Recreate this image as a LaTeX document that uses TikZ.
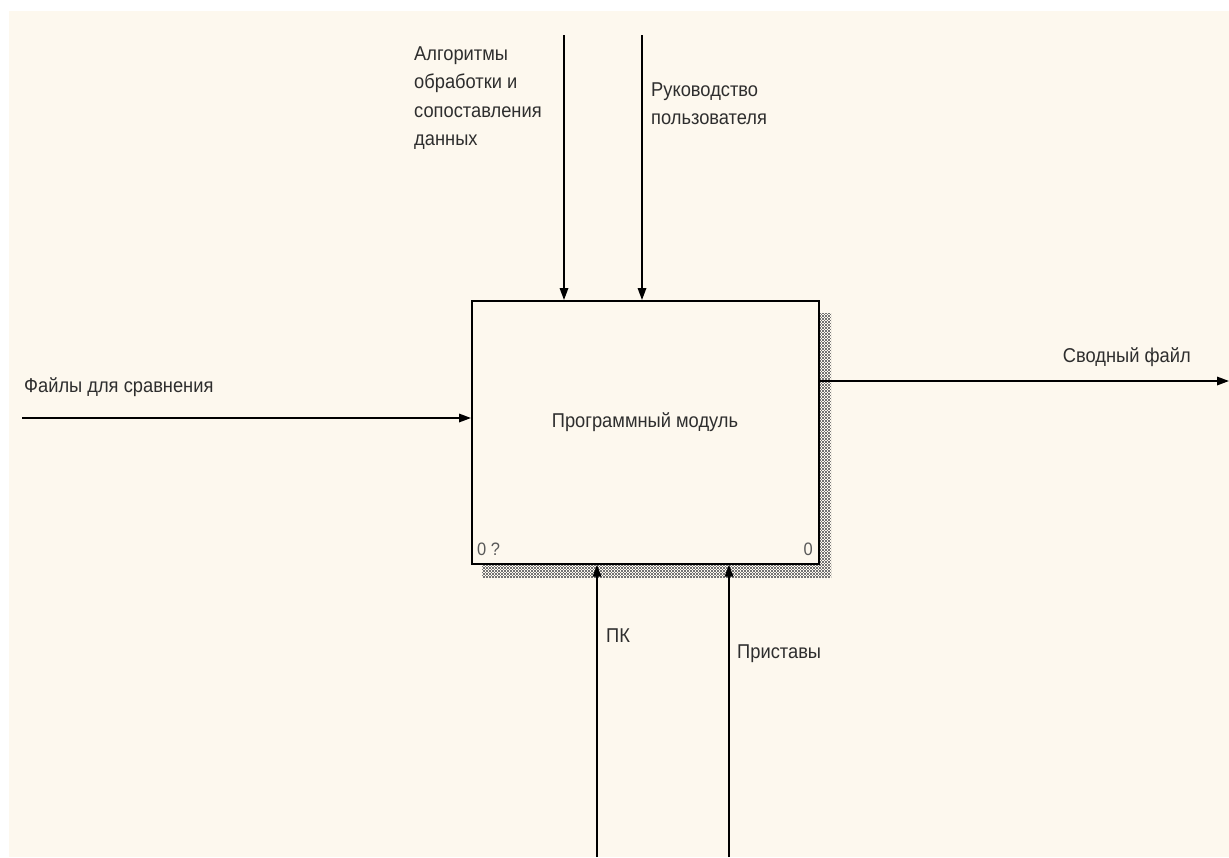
\documentclass[tikz,border=0pt]{standalone}
\usepackage{fontspec}
\setmainfont[FakeStretch=0.915]{Liberation Sans}
\usetikzlibrary{arrows.meta,patterns.meta}
\definecolor{bgcream}{HTML}{FDF8EE}
\definecolor{txt}{HTML}{2E2E2E}
\tikzdeclarepattern{
  name=weave, type=uncolored,
  bottom left={(-0.1pt,-0.1pt)}, top right={(3.1pt,3.1pt)},
  tile size={(3pt,3pt)},
  code={\fill (0pt,0pt) rectangle (1.5pt,1.5pt); \fill (1.5pt,1.5pt) rectangle (3pt,3pt);}
}
\tikzset{
  conn/.style={line width=1.7pt, draw=black, -{Triangle[length=12pt,width=8.5pt]}},
  lbl/.style={font=\fontsize{20}{28.5}\selectfont, text=txt, inner sep=0pt, align=left},
  corner/.style={font=\fontsize{18}{20}\selectfont, text=black!65, inner sep=0pt},
  shadow/.style={pattern=weave, pattern color=black!55},
}
\begin{document}
\begin{tikzpicture}[x=1pt,y=-1pt]
\useasboundingbox (0,0) rectangle (1229,857);
\fill[white] (0,0) rectangle (1229,857);
\fill[bgcream] (9,11) rectangle (1229,857);
% shadow
\fill[shadow] (818,313) rectangle (831,577);
\fill[shadow] (482,563) rectangle (831,577);
% box
\node[draw=black, line width=1.7pt, fill=bgcream, minimum width=347pt, minimum height=263pt, inner sep=0pt, anchor=north west] (box) at (471,300) {};
\node[lbl, anchor=base] (title) at (645,427) {Программный модуль};
\node[corner, anchor=base west] (n1) at (477,555) {0 ?};
\node[corner, anchor=base east] (n2) at (813,555) {0};
% coordinates
\coordinate (t1) at (564,35);
\coordinate (t2) at (642,35);
\coordinate (l1) at (22,418);
\coordinate (r1) at (1229,381);
\coordinate (b1) at (597,857);
\coordinate (b2) at (729,857);
% connectors
\draw[conn] (t1) -- (t1 |- box.north);
\draw[conn] (t2) -- (t2 |- box.north);
\draw[conn] (l1) -- (l1 -| box.west);
\draw[conn] (r1 -| box.east) -- (r1);
\draw[conn] (b1) -- (b1 |- box.south);
\draw[conn] (b2) -- (b2 |- box.south);
% labels
\node[lbl, anchor=north west] (la1) at (414,46.5) {Алгоритмы\\обработки и\\сопоставления\\данных};
\node[lbl, anchor=north west] (la2) at (651,82.5) {Руководство\\пользователя};
\node[lbl, anchor=base west] (la3) at (24,392) {Файлы для сравнения};
\node[lbl, anchor=base east] (la4) at (1191,362) {Сводный файл};
\node[lbl, anchor=base west] (la5) at (606,642) {ПК};
\node[lbl, anchor=base west] (la6) at (737,658) {Приставы};
\end{tikzpicture}
\end{document}
